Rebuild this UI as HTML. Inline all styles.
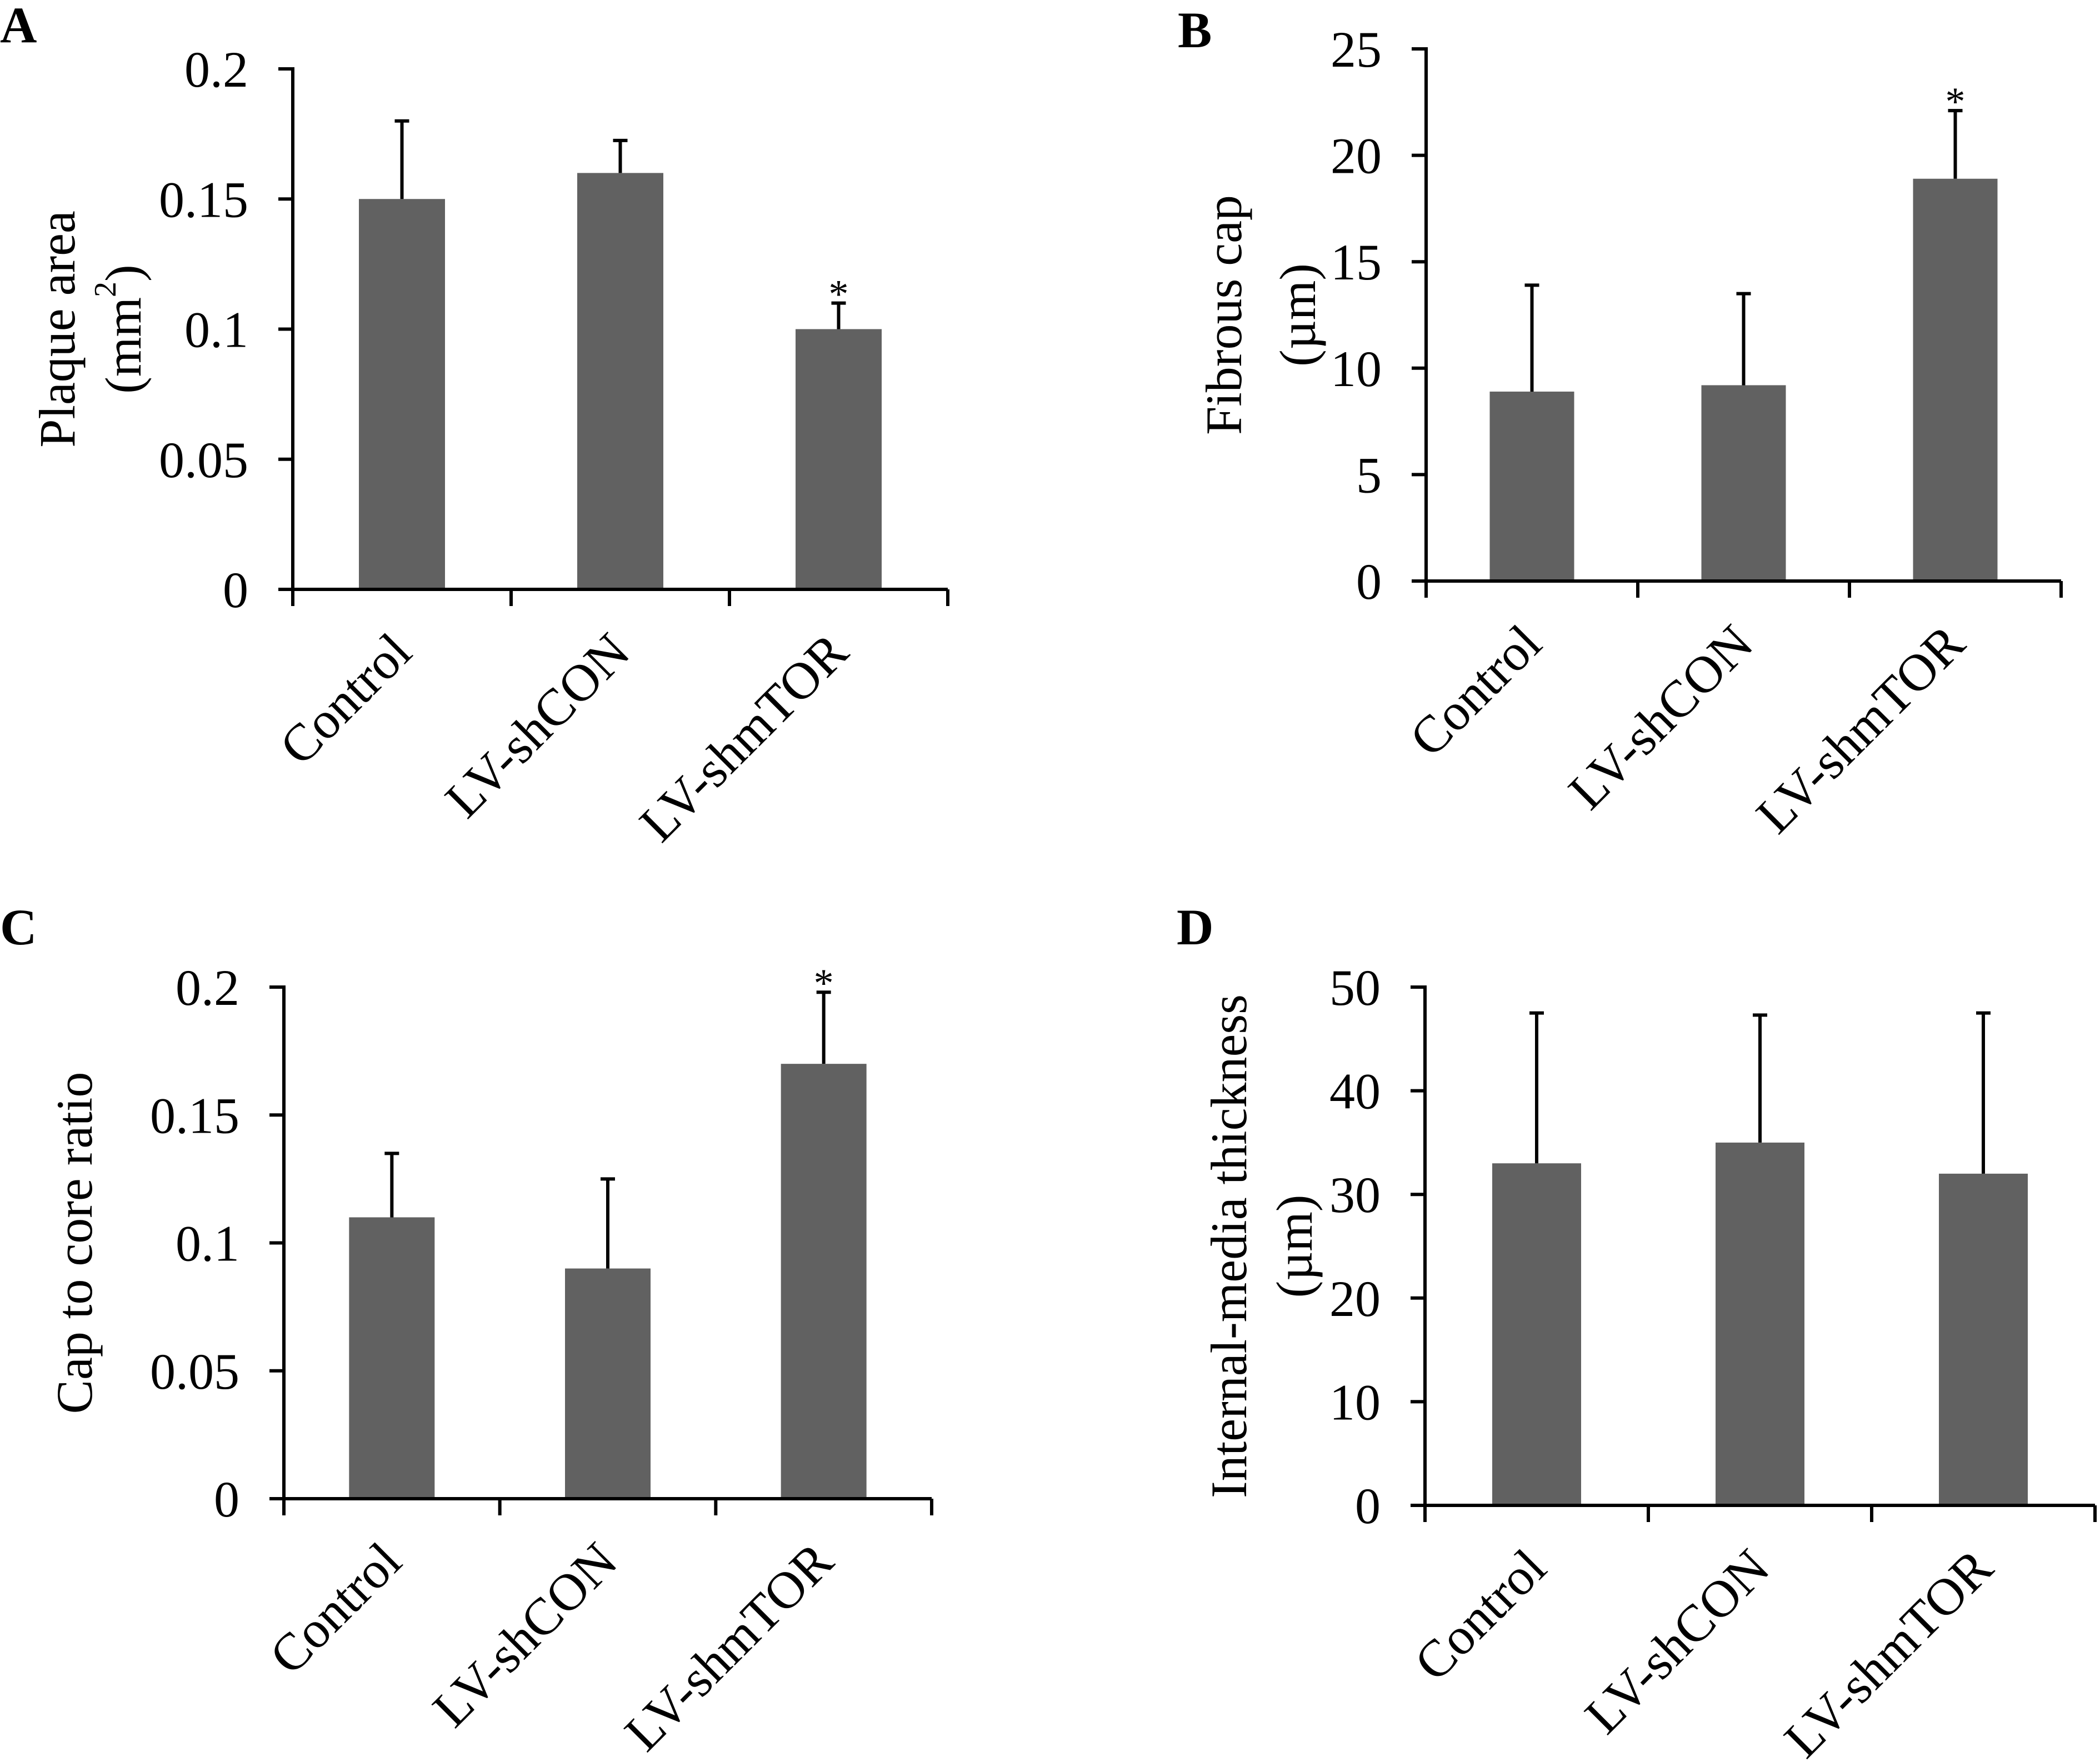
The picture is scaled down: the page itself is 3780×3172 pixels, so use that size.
<!DOCTYPE html>
<html><head><meta charset="utf-8"><style>
html,body{margin:0;padding:0;background:#fff;}
svg{display:block;font-family:"Liberation Serif",serif;}
</style></head><body>
<svg id="fig" width="3780" height="3172" viewBox="0 0 3780 3172" xmlns="http://www.w3.org/2000/svg"></svg>
<script>
const categories = ["Control", "LV-shCON", "LV-shmTOR"];
const valuesA = [0.15, 0.16, 0.10];
const errTopA = [0.18, 0.1725, 0.11];
const sigA = [false, false, true];
const ticksA = ["0", "0.05", "0.1", "0.15", "0.2"];
const valuesB = [8.9, 9.2, 18.9];
const errTopB = [13.9, 13.5, 22.1];
const sigB = [false, false, true];
const ticksB = ["0", "5", "10", "15", "20", "25"];
const valuesC = [0.11, 0.09, 0.17];
const errTopC = [0.135, 0.125, 0.198];
const sigC = [false, false, true];
const ticksC = ["0", "0.05", "0.1", "0.15", "0.2"];
const valuesD = [33, 35, 32];
const errTopD = [47.5, 47.3, 47.5];
const sigD = [false, false, false];
const ticksD = ["0", "10", "20", "30", "40", "50"];

const NS = "http://www.w3.org/2000/svg";
const svg = document.getElementById("fig");
function mk(tag, attrs, parent, text) {
  const e = document.createElementNS(NS, tag);
  for (const k in attrs) e.setAttribute(k, attrs[k]);
  if (text !== undefined) e.textContent = text;
  (parent || svg).appendChild(e);
  return e;
}
const FS = 92;

function panel(p) {
  const g = mk("g", {});
  
  
  const ymax = parseFloat(p.ticks[p.ticks.length - 1]);
  const y = v => p.y0 - (v / ymax) * (p.y0 - p.ytop);
  const cw = (p.xend - p.ax) / categories.length;
  const cx = i => p.ax + cw * (i + 0.5);

  const lt = mk("text", {x: p.lx, y: p.ly, "font-size": 92, "font-weight": "bold"}, g, p.letter);
  
  

  categories.forEach((c, i) => {
    const v = p.values[i];
    const r = mk("rect", {x: cx(i) - p.bw / 2, y: y(v), width: p.bw, height: p.y0 - y(v), fill: "#616161"}, g);
    
    
    const et = y(p.err[i]);
    const eb = mk("path", {d: `M${cx(i)} ${y(v)}V${et}M${cx(i) - 13} ${et}H${cx(i) + 13}`, stroke: "#000", "stroke-width": 6, fill: "none"}, g);
    
    
    if (p.sig[i]) {
      const s = mk("text", {x: cx(i), y: et + 8, "font-size": 72, "text-anchor": "middle"}, g, "*");
      
      
    }
    const axp = cx(i) + 22, ayp = p.y0 + 118;
    const lab = mk("text", {x: axp, y: ayp, "font-size": FS + 2, "text-anchor": "end",
      transform: `rotate(-45 ${axp} ${ayp})`}, g, c);
    
    
  });

  const ya = mk("line", {x1: p.ax, y1: p.ytop - 3, x2: p.ax, y2: p.y0, stroke: "#000", "stroke-width": 6}, g);
  
  
  const xa = mk("line", {x1: p.ax - 26, y1: p.y0, x2: p.xend, y2: p.y0, stroke: "#000", "stroke-width": 6}, g);
  
  
  for (let k = 0; k <= categories.length; k++) {
    const tx = p.ax + cw * k;
    mk("line", {x1: tx, y1: p.y0, x2: tx, y2: p.y0 + 30, stroke: "#000", "stroke-width": 6}, g);
  }
  p.ticks.forEach(t => {
    const ty = y(parseFloat(t));
    mk("line", {x1: p.ax - 26, y1: ty, x2: p.ax, y2: ty, stroke: "#000", "stroke-width": 6}, g);
    const tl = mk("text", {x: p.ax - 80, y: ty + 32, "font-size": FS, "text-anchor": "end"}, g, t);
    
    
  });

  const midY = (p.y0 + p.ytop) / 2;
  p.title.forEach((line, k) => {
    const tx = p.titleX[k];
    const tt = mk("text", {x: tx, y: midY, "font-size": FS, "text-anchor": "middle",
      "dominant-baseline": "central", transform: `rotate(-90 ${tx} ${midY})`}, g);
    
    
    if (line === "mm2") {
      tt.textContent = "(mm";
      mk("tspan", {"font-size": 56, dy: -32}, tt, "2");
      mk("tspan", {dy: 32}, tt, ")");
    } else tt.textContent = line;
  });
}

panel({letter: "A", lx: 0, ly: 76, ax: 527, ytop: 124, y0: 1061, xend: 1706, bw: 155,
  values: valuesA, err: errTopA, sig: sigA, ticks: ticksA, title: ["Plaque area", "mm2"], titleX: [103, 222]});
panel({letter: "B", lx: 2120, ly: 85, ax: 2567, ytop: 88, y0: 1046, xend: 3710, bw: 152,
  values: valuesB, err: errTopB, sig: sigB, ticks: ticksB, title: ["Fibrous cap", "(µm)"], titleX: [2203, 2336]});
panel({letter: "C", lx: 0, ly: 1700, ax: 511, ytop: 1777, y0: 2698, xend: 1677, bw: 154,
  values: valuesC, err: errTopC, sig: sigC, ticks: ticksC, title: ["Cap to core ratio"], titleX: [134]});
panel({letter: "D", lx: 2118, ly: 1700, ax: 2565, ytop: 1777, y0: 2710, xend: 3771, bw: 160,
  values: valuesD, err: errTopD, sig: sigD, ticks: ticksD, title: ["Internal-media thickness", "(µm)"], titleX: [2212, 2330]});
</script>
</body></html>
